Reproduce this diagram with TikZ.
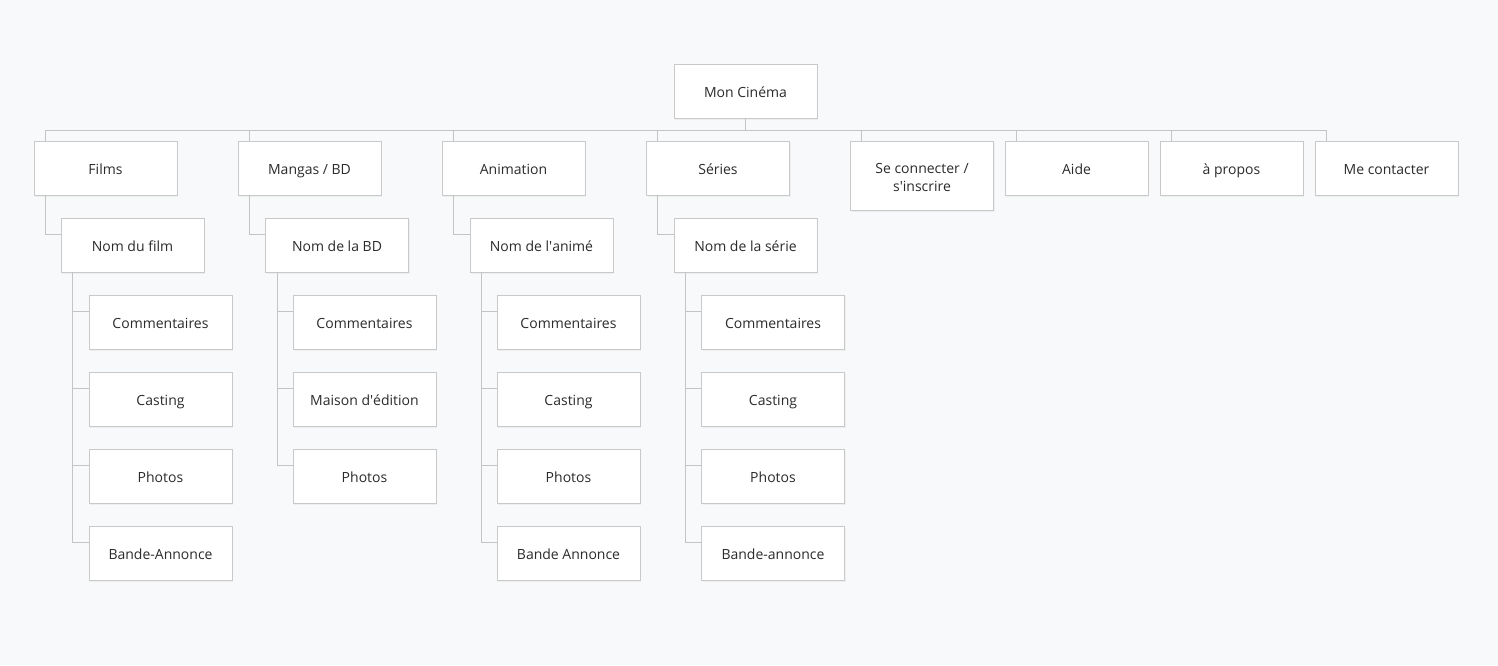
\documentclass[tikz,border=0pt]{standalone}
\usepackage{fontspec}
\setmainfont{Open Sans}
\usetikzlibrary{shadows}
\definecolor{bg}{HTML}{F8F9FA}
\definecolor{boxline}{HTML}{C9C9C9}
\definecolor{conn}{HTML}{C4C4C4}
\definecolor{txt}{HTML}{2B2B2B}
\begin{document}
\begin{tikzpicture}[x=1pt,y=-1pt,
  box/.style={draw=boxline, line width=0.8pt, fill=white, minimum width=143pt, minimum height=54pt,
    inner sep=2pt, align=center, text=txt, font=\fontsize{14}{18}\selectfont,
    text height=12.5pt, text depth=0.5pt,
    drop shadow={opacity=0.09, shadow xshift=1pt, shadow yshift=-2pt}},
  tall/.style={minimum height=69pt, text height=32pt, text depth=0pt},
  link/.style={draw=conn, line width=0.8pt}]
\fill[bg] (0,0) rectangle (1498,665);
\useasboundingbox (0,0) rectangle (1498,665);
% root
\node[box] (root) at (745.5,91) {Mon Cinéma};
% level 1
\node[box] (films) at (105.5,168) {Films};
\node[box] (mangas) at (309.5,168) {Mangas / BD};
\node[box] (anim) at (513.5,168) {Animation};
\node[box] (series) at (718,168) {Séries};
\node[box,tall] (login) at (922,175.5) {Se connecter /\\s\textquotesingle inscrire};
\node[box] (aide) at (1076.5,168) {Aide};
\node[box] (apropos) at (1231.5,168) {à propos};
\node[box] (contact) at (1386.5,168) {Me contacter};
% level 2
\node[box] (nfilm) at (132.5,245) {Nom du film};
\node[box] (nbd) at (337,245) {Nom de la BD};
\node[box] (nanim) at (541.5,245) {Nom de l\textquotesingle animé};
\node[box] (nserie) at (745.5,245) {Nom de la série};
% level 3 films
\node[box] (f1) at (160.5,322) {Commentaires};
\node[box] (f2) at (160.5,399) {Casting};
\node[box] (f3) at (160.5,476) {Photos};
\node[box] (f4) at (160.5,553) {Bande-Annonce};
% level 3 BD
\node[box] (b1) at (364.5,322) {Commentaires};
\node[box] (b2) at (364.5,399) {Maison d\textquotesingle édition};
\node[box] (b3) at (364.5,476) {Photos};
% level 3 anim
\node[box] (a1) at (568.5,322) {Commentaires};
\node[box] (a2) at (568.5,399) {Casting};
\node[box] (a3) at (568.5,476) {Photos};
\node[box] (a4) at (568.5,553) {Bande Annonce};
% level 3 series
\node[box] (s1) at (773,322) {Commentaires};
\node[box] (s2) at (773,399) {Casting};
\node[box] (s3) at (773,476) {Photos};
\node[box] (s4) at (773,553) {Bande-annonce};
% connectors
\foreach \c in {films,mangas,anim,series,login,aide,apropos,contact}
  \draw[link] (root.south) -- ++(0,12) -| ([xshift=11.5pt]\c.north west);
\foreach \p/\c in {films/nfilm,mangas/nbd,anim/nanim,series/nserie}
  \draw[link] ([xshift=11.5pt]\p.south west) |- ([yshift=-17pt]\c.north west);
\foreach \p/\c in {nfilm/f1,nfilm/f2,nfilm/f3,nfilm/f4,nbd/b1,nbd/b2,nbd/b3,nanim/a1,nanim/a2,nanim/a3,nanim/a4,nserie/s1,nserie/s2,nserie/s3,nserie/s4}
  \draw[link] ([xshift=12pt]\p.south west) |- ([yshift=-17pt]\c.north west);
\end{tikzpicture}
\end{document}
